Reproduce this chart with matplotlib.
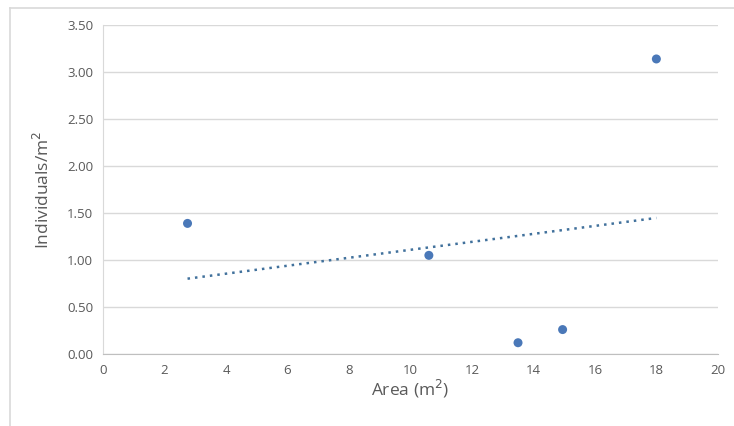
import numpy as np
import matplotlib.pyplot as plt
from matplotlib.lines import Line2D

area = [2.75, 10.6, 13.5, 14.95, 18.0]
density = [1.39, 1.05, 0.12, 0.26, 3.14]
x_ticks = [0, 2, 4, 6, 8, 10, 12, 14, 16, 18, 20]
y_ticks = [0.0, 0.5, 1.0, 1.5, 2.0, 2.5, 3.0, 3.5]

plt.rcParams['font.family'] = ['Open Sans', 'DejaVu Sans']

fig = plt.figure(figsize=(7.34, 4.26), dpi=100)
ax = fig.add_axes([0.1403, 0.169, 0.8377, 0.772])

# linear trend line, as excel would add it
slope, icpt = np.polyfit(area, density, 1)
xs = np.array([min(area), max(area)])
ax.plot(xs, slope * xs + icpt, linestyle=(0, (1, 2)), color='#41719c', lw=1.8, zorder=2)
ax.scatter(area, density, s=42, color='#4a78b8', zorder=3, edgecolors='none')

ax.set_xlim(0, 20)
ax.set_ylim(0, 3.5)
ax.set_xticks(x_ticks)
ax.set_yticks(y_ticks)
ax.set_yticklabels([f"{v:.2f}" for v in y_ticks])
ax.grid(axis='y', color='#d9d9d9', lw=1.0)
ax.set_axisbelow(True)
ax.tick_params(length=0, labelsize=9.5, labelcolor='#595959', pad=7)
for s in ['top', 'right']:
    ax.spines[s].set_visible(False)
ax.spines['left'].set_color('#d9d9d9')
ax.spines['bottom'].set_color('#bfbfbf')

ax.set_xlabel('Area (m$^2$)', fontsize=12.5, color='#595959', labelpad=1)
ax.set_ylabel('Individuals/m$^2$', fontsize=12.5, color='#595959', labelpad=10)

# outer chart frame (partly cropped)
fig.add_artist(Line2D([10/734, 10/734], [0, 1 - 8/426], color='#d9d9d9', lw=1.2))
fig.add_artist(Line2D([10/734, 1], [1 - 8/426, 1 - 8/426], color='#d9d9d9', lw=1.2))

fig.savefig('out.png', dpi=100)
